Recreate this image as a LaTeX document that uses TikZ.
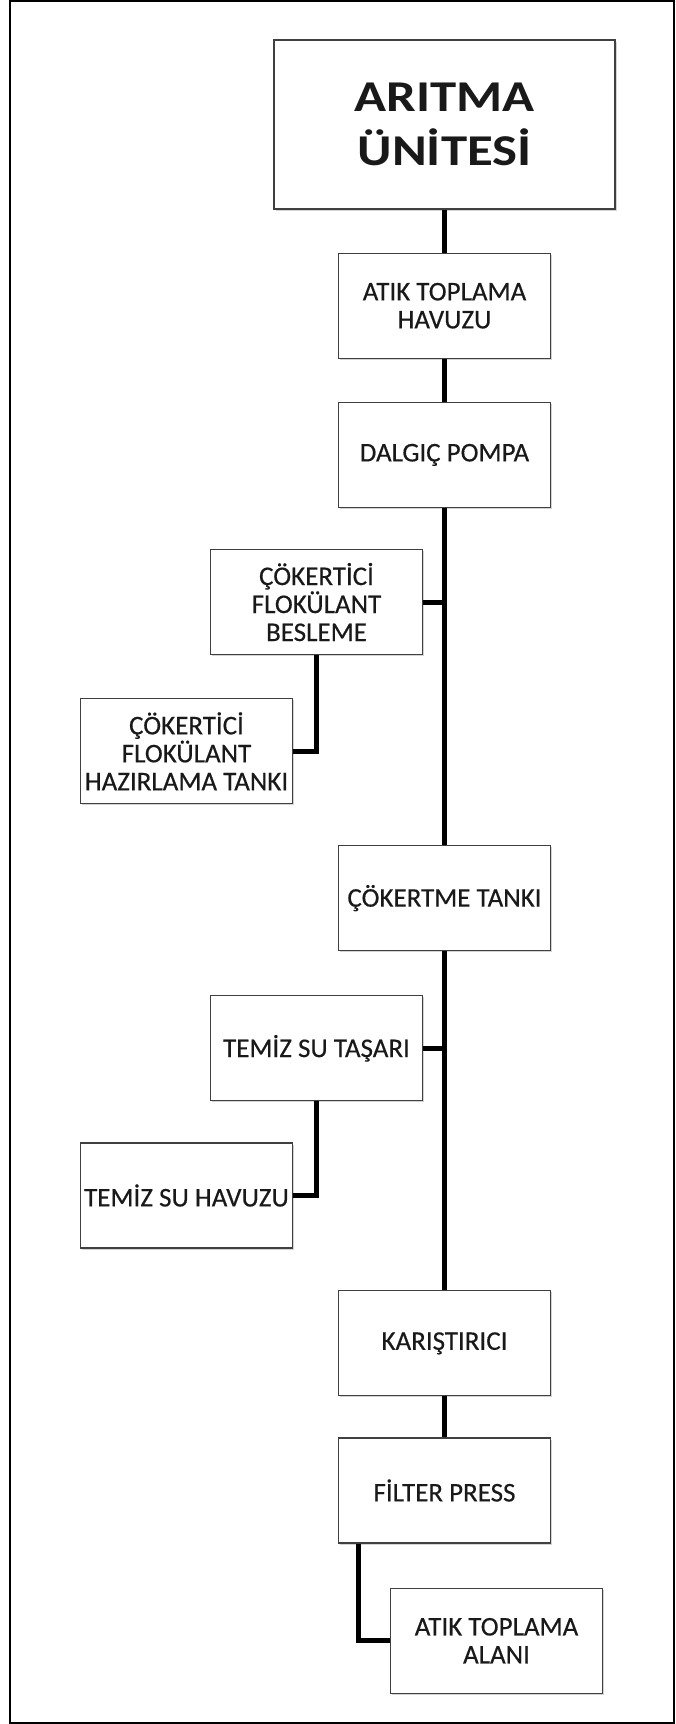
\documentclass[tikz,border=0pt]{standalone}
\usepackage{fontspec}
\setmainfont{Carlito}[FakeBold=0.4]
\newfontfamily\titlefont[FakeStretch=1.2]{Carlito}
\usetikzlibrary{positioning,shadows}

\begin{document}
\begin{tikzpicture}[x=1pt,y=1pt,
 box/.style={draw=black!75,line width=1.2pt,fill=white,align=center,minimum width=212pt,minimum height=105pt,
  inner sep=0pt,font=\fontsize{27}{28}\selectfont,text=black!90,
  drop shadow={opacity=0.35,shadow xshift=1.5pt,shadow yshift=-1.5pt}},
 title/.style={box,minimum width=341pt,minimum height=169pt,font=\titlefont\fontsize{44}{54}\selectfont\bfseries},
 link/.style={line width=5pt,black}]
\useasboundingbox (0,0) rectangle (675,-1724);
\draw[line width=2.3pt] (10,-1.2) rectangle (673.8,-1722.8);
\node[title] (unit) at (444.5,-124.5) {ARITMA\\ÜNİTESİ};
\node[box,below=43pt of unit] (pool) {ATIK TOPLAMA\\HAVUZU};
\node[box,below=43pt of pool] (pump) {DALGIÇ POMPA};
\node[box,below=41pt of pump,xshift=-128pt] (feed) {ÇÖKERTİCİ\\FLOKÜLANT\\BESLEME};
\node[box,below=43pt of feed,xshift=-130pt] (prep) {ÇÖKERTİCİ\\FLOKÜLANT\\HAZIRLAMA TANKI};
\node[box,below=337pt of pump] (settle) {ÇÖKERTME TANKI};
\node[box,below=44pt of settle,xshift=-128pt] (over) {TEMİZ SU TAŞARI};
\node[box,below=41pt of over,xshift=-130pt] (clean) {TEMİZ SU HAVUZU};
\node[box,below=339pt of settle] (mixer) {KARIŞTIRICI};
\node[box,below=41pt of mixer] (press) {FİLTER PRESS};
\node[box,below=44pt of press,xshift=52pt] (waste) {ATIK TOPLAMA\\ALANI};
\draw[link] (unit) -- (pool);
\draw[link] (pool) -- (pump);
\draw[link] (pump) -- (settle);
\draw[link] (settle) -- (mixer);
\draw[link] (mixer) -- (press);
\draw[link] (feed.east) -- (feed.east -| pump.south);
\draw[link] (feed.south) |- (prep.east);
\draw[link] (over.east) -- (over.east -| settle.south);
\draw[link] (over.south) |- (clean.east);
\draw[link] ([xshift=20.5pt]press.south west) |- (waste.west);
\end{tikzpicture}
\end{document}
